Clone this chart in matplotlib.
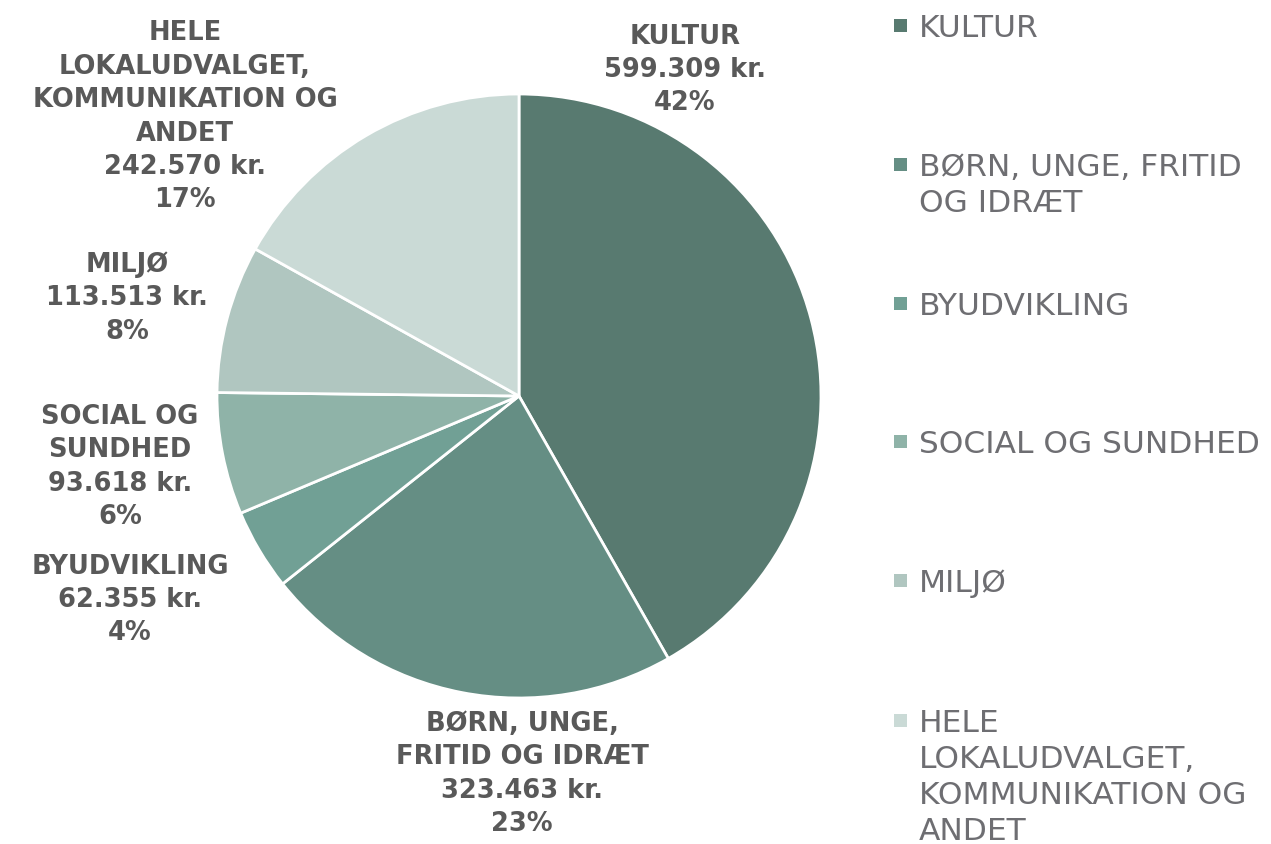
import matplotlib
matplotlib.use("Agg")
import matplotlib.pyplot as plt
from matplotlib.patches import Rectangle

categories = ["KULTUR", "BØRN, UNGE, FRITID OG IDRÆT", "BYUDVIKLING",
              "SOCIAL OG SUNDHED", "MILJØ",
              "HELE LOKALUDVALGET, KOMMUNIKATION OG ANDET"]
values = [599309, 323463, 62355, 93618, 113513, 242570]
percents = ["42%", "23%", "4%", "6%", "8%", "17%"]
label_names = ["KULTUR", "BØRN, UNGE,\nFRITID OG IDRÆT", "BYUDVIKLING",
               "SOCIAL OG\nSUNDHED", "MILJØ",
               "HELE\nLOKALUDVALGET,\nKOMMUNIKATION OG\nANDET"]
legend_names = ["KULTUR", "BØRN, UNGE, FRITID\nOG IDRÆT", "BYUDVIKLING",
                "SOCIAL OG SUNDHED", "MILJØ",
                "HELE\nLOKALUDVALGET,\nKOMMUNIKATION OG\nANDET"]
colors = ["#587A70", "#658E84", "#71A095", "#8FB3A8", "#B0C6C0", "#CADAD6"]

W, H = 1271, 845
fig = plt.figure(figsize=(W / 100, H / 100), dpi=100)
ax = fig.add_axes([0, 0, 1, 1])
R = 302.0
cx, cy = 519.0, 397.0

ax.pie(values, colors=colors, startangle=90, counterclock=False, radius=1.0,
       wedgeprops=dict(edgecolor="white", linewidth=2))
ax.set_aspect("auto")
ax.set_xlim(-cx / R, (W - cx) / R)
ax.set_ylim(-(H - cy) / R, cy / R)
ax.axis("off")

def fmt(v):
    return f"{v:,}".replace(",", ".") + " kr."

label_pos = [(685, 70), (522, 774), (130, 600), (120, 467), (127, 298), (185, 117)]
for name, v, p, (px, py) in zip(label_names, values, percents, label_pos):
    ax.text((px - cx) / R, (cy - py) / R, f"{name}\n{fmt(v)}\n{p}",
            ha="center", va="center", fontsize=18.5, fontweight="bold",
            family="DejaVu Sans", color="#595959", linespacing=1.37)

leg_y = [27, 166, 305, 443, 582, 722]
for name, col, y in zip(legend_names, colors, leg_y):
    fig.patches.append(Rectangle((894 / W, 1 - (y + 6) / H), 13 / W, 13 / H,
                                 transform=fig.transFigure, facecolor=col,
                                 edgecolor="none"))
    fig.text(919 / W, 1 - (y - 13) / H, name, ha="left", va="top",
             fontsize=22.5, family="DejaVu Sans",
             color="#6E6E72", linespacing=1.3)

fig.savefig("out.png", dpi=100, facecolor="white")
